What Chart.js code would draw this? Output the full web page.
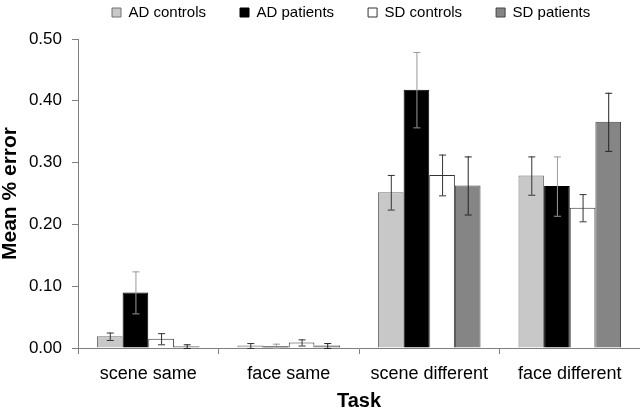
<!DOCTYPE html>
<html>
<head>
<meta charset="utf-8">
<script src="https://cdn.jsdelivr.net/npm/chart.js@4/dist/chart.umd.min.js"></script>
<style>
  html, body { margin: 0; padding: 0; background: #fff; }
  #wrap { width: 640px; height: 411px; }
</style>
</head>
<body>
<div id="wrap"><canvas id="errChart"></canvas></div>
<script>
// Task categories
const tasks = ['scene same', 'face same', 'scene different', 'face different'];

// Mean % error per group
const adControls = [0.019, 0.004, 0.252, 0.279];
const adPatients = [0.090, 0.003, 0.418, 0.262];
const sdControls = [0.015, 0.009, 0.280, 0.227];
const sdPatients = [0.003, 0.004, 0.263, 0.366];

// Error bar half-lengths
const adControlsErr = [0.006, 0.004, 0.028, 0.031];
const adPatientsErr = [0.034, 0.004, 0.061, 0.048];
const sdControlsErr = [0.009, 0.005, 0.033, 0.022];
const sdPatientsErr = [0.003, 0.004, 0.047, 0.047];

// y axis ticks
const yMin = 0;
const yMax = 0.5;
const yStep = 0.1;

const font = '"Liberation Sans", Arial, sans-serif';

// draws +/- error whiskers on top of each bar
const errorBars = {
    id: 'errorBars',
    afterDatasetsDraw(chart) {
        const ctx = chart.ctx;
        const yScale = chart.scales.y;
        chart.data.datasets.forEach((ds, i) => {
            const meta = chart.getDatasetMeta(i);
            meta.data.forEach((bar, j) => {
                const v = ds.data[j];
                const e = ds.errors[j];
                const top = yScale.getPixelForValue(v + e);
                const bot = yScale.getPixelForValue(Math.max(v - e, 0));
                ctx.save();
                ctx.strokeStyle = ds.errorColor;
                ctx.lineWidth = 1;
                ctx.beginPath();
                ctx.moveTo(bar.x + 0.5, top);
                ctx.lineTo(bar.x + 0.5, bot);
                ctx.moveTo(bar.x - 3, top + 0.5);
                ctx.lineTo(bar.x + 4, top + 0.5);
                ctx.moveTo(bar.x - 3, bot + 0.5);
                ctx.lineTo(bar.x + 4, bot + 0.5);
                ctx.stroke();
                ctx.restore();
            });
        });
    }
};

const ctx = document.getElementById('errChart').getContext('2d');
new Chart(ctx, {
    type: 'bar',
    data: {
        labels: tasks,
        datasets: [
            { label: 'AD controls', data: adControls, errors: adControlsErr,
              backgroundColor: '#c8c8c8', borderColor: '#707070', borderWidth: 1, errorColor: '#333' },
            { label: 'AD patients', data: adPatients, errors: adPatientsErr,
              backgroundColor: '#000000', borderColor: '#000000', borderWidth: 1, errorColor: '#9a9a9a' },
            { label: 'SD controls', data: sdControls, errors: sdControlsErr,
              backgroundColor: '#ffffff', borderColor: '#333333', borderWidth: 1, errorColor: '#333' },
            { label: 'SD patients', data: sdPatients, errors: sdPatientsErr,
              backgroundColor: '#858585', borderColor: '#444444', borderWidth: 1, errorColor: '#222' }
        ]
    },
    options: {
        responsive: true,
        maintainAspectRatio: false,
        animation: false,
        layout: { padding: { top: -29, left: 0, right: 0, bottom: 0 } },
        datasets: {
            bar: { barPercentage: 1.0, categoryPercentage: 0.73 }
        },
        plugins: {
            tooltip: { enabled: false },
            legend: {
                position: 'top',
                align: 'start',
                fullSize: false,
                labels: {
                    boxWidth: 9,
                    boxHeight: 9,
                    padding: 34,
                    color: '#000',
                    font: { family: font, size: 15 }
                }
            },
            // empty spacer between legend and plot
            subtitle: {
                display: true,
                text: '',
                position: 'top',
                weight: 500,
                padding: 0,
                font: { size: 9, lineHeight: 1 }
            }
        },
        scales: {
            x: {
                afterFit(scale) { scale.height = 63; },
                border: { color: '#808080' },
                grid: { offset: true, drawOnChartArea: false, tickLength: 6, color: '#808080' },
                ticks: { color: '#000', padding: 9, font: { family: font, size: 18 } },
                title: {
                    display: true, text: 'Task', color: '#000',
                    font: { family: font, size: 20, weight: 'bold', lineHeight: 1 },
                    padding: { top: 0, bottom: 0 }
                }
            },
            y: {
                min: yMin,
                max: yMax,
                afterFit(scale) { scale.width = 78; },
                border: { color: '#808080' },
                grid: { drawOnChartArea: false, tickLength: 6, color: '#808080' },
                ticks: {
                    stepSize: yStep,
                    color: '#000',
                    padding: 10,
                    font: { family: font, size: 17 },
                    callback: v => v.toFixed(2)
                },
                title: {
                    display: true, text: 'Mean % error', color: '#000',
                    font: { family: font, size: 21, weight: 'bold', lineHeight: 1 },
                    padding: 0
                }
            }
        }
    },
    plugins: [errorBars]
});
</script>
</body>
</html>
